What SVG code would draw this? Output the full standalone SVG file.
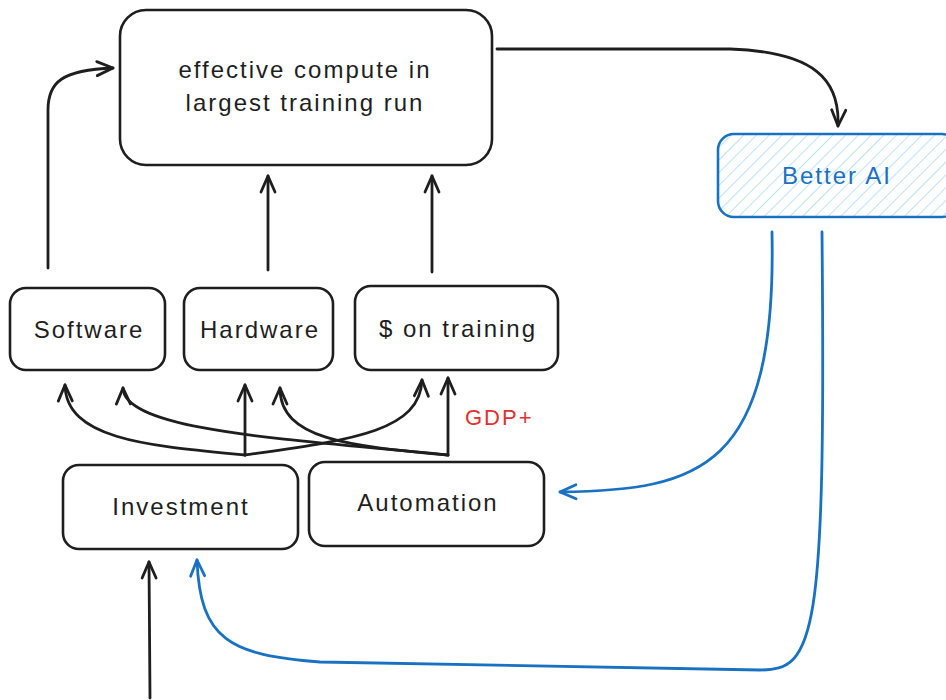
<svg xmlns="http://www.w3.org/2000/svg" width="946" height="700" viewBox="0 0 946 700">
<style>
.box{fill:#ffffff;stroke:#1e1e1e;stroke-width:2.6}
.lbl{font-family:"Liberation Sans",Arial,sans-serif;font-size:24px;letter-spacing:2px;fill:#1e1e1e;text-anchor:middle}
.blk{fill:none;stroke:#1e1e1e;stroke-width:2.8;stroke-linecap:round;stroke-linejoin:round}
.blu{fill:none;stroke:#1971c2;stroke-width:2.8;stroke-linecap:round;stroke-linejoin:round}
</style>
<defs>
<pattern id="hatch" width="9" height="9" patternUnits="userSpaceOnUse" patternTransform="rotate(45)">
<line x1="0" y1="0" x2="0" y2="9" stroke="#a5d8ff" stroke-width="1.5"/>
</pattern>
<marker id="ab" markerUnits="userSpaceOnUse" markerWidth="30" markerHeight="30" refX="0" refY="0" viewBox="-20 -15 30 30" orient="auto" overflow="visible">
<path d="M-16,-7 L0,0 L-16,7" fill="none" stroke="#1e1e1e" stroke-width="2.8" stroke-linecap="round" stroke-linejoin="round"/>
</marker>
<marker id="au" markerUnits="userSpaceOnUse" markerWidth="30" markerHeight="30" refX="0" refY="0" viewBox="-20 -15 30 30" orient="auto" overflow="visible">
<path d="M-16,-7 L0,0 L-16,7" fill="none" stroke="#1971c2" stroke-width="2.8" stroke-linecap="round" stroke-linejoin="round"/>
</marker>
</defs>
<rect width="946" height="700" fill="#ffffff"/>

<g id="compute">
<rect class="box" x="120" y="10" width="372" height="155" rx="26"/>
<text class="lbl" x="305" y="78">effective compute in</text>
<text class="lbl" x="305" y="111">largest training run</text>
</g>
<g id="better-ai">
<rect x="718" y="134" width="240" height="83" rx="16" fill="url(#hatch)" stroke="#1971c2" stroke-width="2.6"/>
<text class="lbl" x="837" y="184" style="fill:#1971c2">Better AI</text>
</g>
<g id="software">
<rect class="box" x="10" y="288" width="155" height="82" rx="16"/>
<text class="lbl" x="89" y="338">Software</text>
</g>
<g id="hardware">
<rect class="box" x="184" y="288" width="149" height="82" rx="16"/>
<text class="lbl" x="260" y="338">Hardware</text>
</g>
<g id="training">
<rect class="box" x="355" y="286" width="203" height="84" rx="16"/>
<text class="lbl" x="458" y="337">$ on training</text>
</g>
<g id="investment">
<rect class="box" x="63" y="465" width="235" height="84" rx="16"/>
<text class="lbl" x="181" y="515">Investment</text>
</g>
<g id="automation">
<rect class="box" x="309" y="462" width="235" height="84" rx="16"/>
<text class="lbl" x="428" y="511">Automation</text>
</g>
<g id="gdp-label">
<text x="465" y="425" style="font-family:'Liberation Sans',Arial,sans-serif;font-size:22px;letter-spacing:2px;fill:#e03131">GDP+</text>
</g>

<g id="connectors">
<path class="blk" marker-end="url(#ab)" d="M48,268 L48,110 C48,82 62,70 113,68"/>
<path class="blk" marker-end="url(#ab)" d="M268,270 L268,176"/>
<path class="blk" marker-end="url(#ab)" d="M432,272 L432,176"/>
<path class="blk" marker-end="url(#ab)" d="M497,49 L730,49 C815,52 840,80 838,126"/>

<path class="blk" marker-end="url(#ab)" d="M245,455 C150,446 66,440 65,385"/>
<path class="blk" marker-end="url(#ab)" d="M245,455 L245,385"/>
<path class="blk" marker-end="url(#ab)" d="M245,455 C350,440 420,432 422,380"/>
<path class="blk" marker-end="url(#ab)" d="M448,455 C300,440 124,432 123,388"/>
<path class="blk" marker-end="url(#ab)" d="M448,455 C350,446 280,440 280,388"/>
<path class="blk" marker-end="url(#ab)" d="M448,455 L448,378"/>

<path class="blk" marker-end="url(#ab)" d="M150,698 L149,562"/>

<path class="blu" marker-end="url(#au)" d="M772,232 C777,470 700,490 560,492"/>
<path class="blu" marker-end="url(#au)" d="M822,232 C826,640 815,670 760,670 L320,662 C230,655 200,640 197,560"/>
</g>
</svg>
